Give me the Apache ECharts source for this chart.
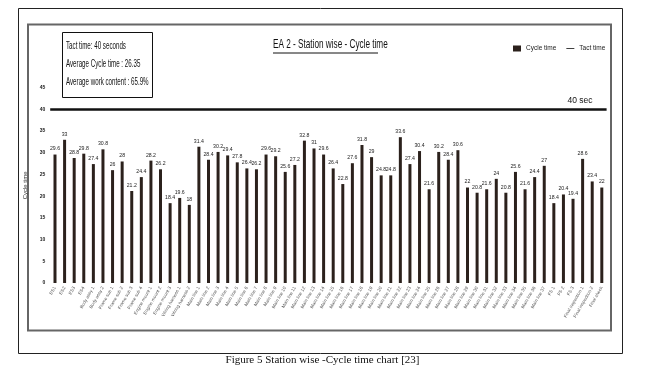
<!DOCTYPE html>
<html>
<head>
<meta charset="utf-8">
<script src="https://cdn.jsdelivr.net/npm/echarts@6/dist/echarts.min.js"></script>
<style>
html,body{margin:0;padding:0;background:#fff;}
#c{width:645px;height:385px;}
</style>
</head>
<body>
<div id="c"></div>
<script>
const stations = [
 'ES1','ES2','ES3','ES4','Body assy 1','Body assy 2','Frame sub 1','Frame sub 2','Frame sub 3','Frame sub 4',
 'Engine mount 1','Engine mount 2','Engine mount 3','Wiring harness 1','Wiring harness 2','Main line 1','Main line 2','Main line 3','Main line 4','Main line 5',
 'Main line 6','Main line 7','Main line 8','Main line 9','Main line 10','Main line 11','Main line 12','Main line 13','Main line 14','Main line 15',
 'Main line 16','Main line 17','Main line 18','Main line 19','Main line 20','Main line 21','Main line 22','Main line 23','Main line 24','Main line 25',
 'Main line 26','Main line 27','Main line 28','Main line 29','Main line 30','Main line 31','Main line 32','Main line 33','Main line 34','Main line 35',
 'Main line 36','Main line 37','FS 1','FS 2','FS 3','Final inspection 1','Final inspection 2','Final check'
];
const cycleTime = [
 29.6,33,28.8,29.8,27.4,30.8,26,28,21.2,24.4,
 28.2,26.2,18.4,19.6,18,31.4,28.4,30.2,29.4,27.8,
 26.4,26.2,29.6,29.2,25.6,27.2,32.8,31,29.6,26.4,
 22.8,27.6,31.8,29,24.8,24.8,33.6,27.4,30.4,21.6,
 30.2,28.4,30.6,22,20.8,21.6,24,20.8,25.6,21.6,
 24.4,27,18.4,20.4,19.4,28.6,23.4,22
];
const tactTime = 40;
const yTicks = [0,5,10,15,20,25,30,35,40,45];
const infoLines = ['Tact time: 40 seconds','Average Cycle time : 26.35','Average work content : 65.9%'];

const FONT = '"Liberation Sans",Arial,sans-serif';
const chart = echarts.init(document.getElementById('c'), null, {renderer:'canvas'});
chart.setOption({
  animation:false,
  backgroundColor:'#fff',
  textStyle:{fontFamily:FONT},
  legend:{
    left:508, top:40, itemGap:10, itemWidth:8, itemHeight:6,
    textStyle:{fontFamily:FONT,fontSize:6.5,color:'#222'},
    data:[
      {name:'Cycle time',icon:'rect'},
      {name:'Tact time',icon:'path://M0,4 L20,4 L20,6 L0,6 Z'}
    ]
  },
  grid:{left:50.2, right:38.4, top:87.7, bottom:102},
  xAxis:{
    type:'category', data:stations,
    axisLine:{show:false}, axisTick:{show:false},
    axisLabel:{interval:0, rotate:60, fontSize:4.5, color:'#555', fontFamily:FONT, margin:4}
  },
  yAxis:{
    type:'value', min:yTicks[0], max:yTicks[yTicks.length-1], interval:5,
    name:'Cycle time', nameLocation:'middle', nameGap:12, nameRotate:90,
    nameTextStyle:{fontSize:6,color:'#333',fontFamily:FONT},
    axisLine:{show:false}, axisTick:{show:false}, splitLine:{show:false},
    axisLabel:{fontSize:5,color:'#222',fontWeight:'bold',fontFamily:FONT,margin:5}
  },
  series:[
    {
      name:'Cycle time', type:'bar', data:cycleTime, barWidth:3,
      itemStyle:{color:'#2b211c'},
      label:{show:true, position:'top', distance:3, fontSize:5.2, color:'#222', fontFamily:FONT}
    },
    {
      name:'Tact time', type:'line', data:[], symbol:'none',
      lineStyle:{color:'#111',width:2},
      itemStyle:{color:'#111'},
      markLine:{
        silent:true, symbol:['none','none'],
        lineStyle:{color:'#111',width:2.5,type:'solid'},
        label:{show:true, position:'insideEndTop', formatter:'40 sec', fontSize:8.5, color:'#111', fontFamily:FONT, distance:[14,4]},
        data:[{yAxis:tactTime}]
      }
    }
  ],
  graphic:[
    {type:'rect', shape:{x:18.5,y:8.5,width:604,height:345}, style:{fill:null,stroke:'#222',lineWidth:1}, silent:true, z:-10},
    {type:'rect', shape:{x:28,y:24.5,width:583,height:306}, style:{fill:null,stroke:'#666',lineWidth:2}, silent:true, z:-9},
    {type:'text', x:273, y:38, scaleX:0.63, style:{text:'EA 2 - Station wise - Cycle time', font:'13px '+FONT, fill:'#111'}},
    {type:'line', shape:{x1:273,y1:53,x2:378,y2:53}, style:{stroke:'#111',lineWidth:1}},
    {type:'rect', shape:{x:62.5,y:32.5,width:90,height:65}, style:{fill:'#fff',stroke:'#111',lineWidth:1}},
    {type:'text', x:66, y:41, scaleX:0.62, style:{text:infoLines[0], font:'10px '+FONT, fill:'#111'}},
    {type:'text', x:66, y:59, scaleX:0.62, style:{text:infoLines[1], font:'10px '+FONT, fill:'#111'}},
    {type:'text', x:66, y:77, scaleX:0.62, style:{text:infoLines[2], font:'10px '+FONT, fill:'#111'}},
    {type:'text', left:'center', top:355, style:{text:'Figure 5 Station wise -Cycle time chart [23]', font:'11px "Liberation Serif","Times New Roman",serif', fill:'#111'}}
  ]
});
</script>
</body>
</html>
